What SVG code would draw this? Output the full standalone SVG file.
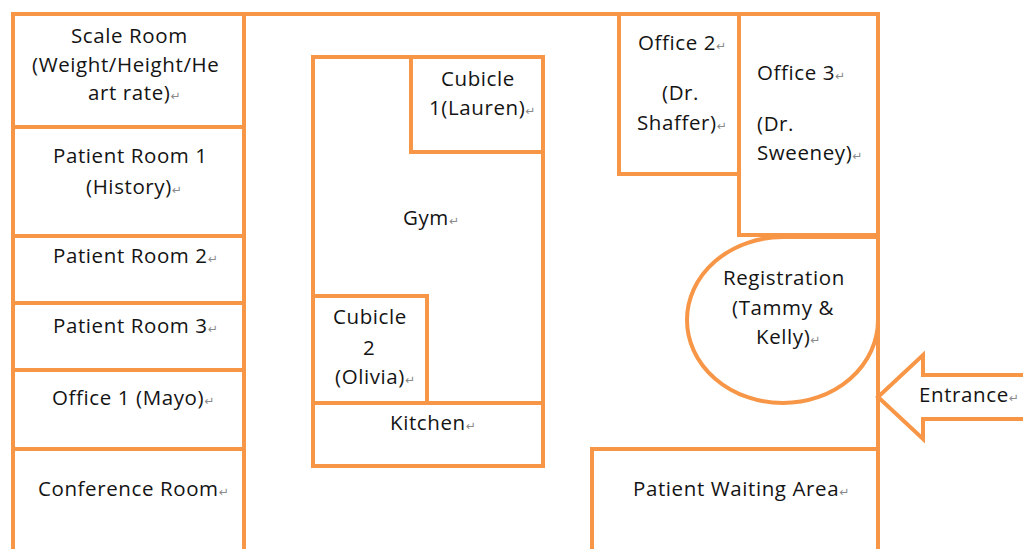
<svg xmlns="http://www.w3.org/2000/svg" width="1023" height="549" viewBox="0 0 1023 549">
<style>
.wall{fill:none;stroke:#F79646;stroke-width:4}
.room{fill:#fff;stroke:#F79646;stroke-width:4}
.t{font-family:"Open Sans","Noto Sans","Liberation Sans",sans-serif;font-size:20.5px;letter-spacing:0.6px;fill:#141414}
.pm{font-family:"DejaVu Sans",sans-serif;font-size:12px;fill:#8a8a8a;letter-spacing:0}
</style>
<rect width="1023" height="549" fill="#fff"/>
<g id="building"><path class="wall" d="M13,560 V14 H878 V560"/></g>
<g id="scale-room"><rect class="room" x="13" y="14" width="231" height="113"/>
<text class="t"><tspan x="71" y="43">Scale Room</tspan><tspan x="32" y="72">(Weight/Height/He</tspan><tspan x="88" y="100">art rate)<tspan class="pm">↵</tspan></tspan></text></g>
<g id="patient-room-1"><rect class="room" x="13" y="127" width="231" height="109"/>
<text class="t"><tspan x="53" y="163">Patient Room 1</tspan><tspan x="86" y="194">(History)<tspan class="pm">↵</tspan></tspan></text></g>
<g id="patient-room-2"><rect class="room" x="13" y="236" width="231" height="67"/>
<text class="t" x="53" y="263">Patient Room 2<tspan class="pm">↵</tspan></text></g>
<g id="patient-room-3"><rect class="room" x="13" y="303" width="231" height="67"/>
<text class="t" x="53" y="333">Patient Room 3<tspan class="pm">↵</tspan></text></g>
<g id="office-1"><rect class="room" x="13" y="370" width="231" height="79"/>
<text class="t" x="52" y="405">Office 1 (Mayo)<tspan class="pm">↵</tspan></text></g>
<g id="conference-room"><rect class="room" x="13" y="449" width="231" height="120"/>
<text class="t" x="38" y="496">Conference Room<tspan class="pm">↵</tspan></text></g>
<g id="gym"><rect class="room" x="313" y="57" width="230" height="346"/>
<text class="t" x="403" y="225">Gym<tspan class="pm">↵</tspan></text></g>
<g id="cubicle-1"><rect class="room" x="411" y="57" width="132" height="95"/>
<text class="t"><tspan x="441" y="86">Cubicle</tspan><tspan x="429" y="115">1(Lauren)<tspan class="pm">↵</tspan></tspan></text></g>
<g id="cubicle-2"><rect class="room" x="313" y="296" width="114" height="107"/>
<text class="t"><tspan x="333" y="324">Cubicle</tspan><tspan x="363" y="355">2</tspan><tspan x="335" y="384">(Olivia)<tspan class="pm">↵</tspan></tspan></text></g>
<g id="kitchen"><rect class="room" x="313" y="403" width="230" height="63"/>
<text class="t" x="390" y="430">Kitchen<tspan class="pm">↵</tspan></text></g>
<g id="office-2"><rect class="room" x="619" y="14" width="120" height="160"/>
<text class="t"><tspan x="638" y="50">Office 2<tspan class="pm">↵</tspan></tspan><tspan x="662" y="100">(Dr.</tspan><tspan x="637" y="130">Shaffer)<tspan class="pm">↵</tspan></tspan></text></g>
<g id="office-3"><rect class="room" x="739" y="14" width="139" height="221"/>
<text class="t"><tspan x="757" y="80">Office 3<tspan class="pm">↵</tspan></tspan><tspan x="757" y="131">(Dr.</tspan><tspan x="757" y="160">Sweeney)<tspan class="pm">↵</tspan></tspan></text></g>
<g id="registration"><path class="room" d="M783,237 H878 V320 A95,83 0 0 1 783,403 A96,83 0 0 1 687,320 A96,83 0 0 1 783,237 Z"/>
<text class="t"><tspan x="723" y="285">Registration</tspan><tspan x="732" y="315">(Tammy &amp;</tspan><tspan x="756" y="344">Kelly)<tspan class="pm">↵</tspan></tspan></text></g>
<g id="waiting-area"><rect class="room" x="592" y="449" width="286" height="120"/>
<text class="t" x="633" y="496">Patient Waiting Area<tspan class="pm">↵</tspan></text></g>
<g id="entrance"><path class="room" d="M1030,375 H923 V355 L878,397 L923,439 V419 H1030 Z"/>
<text class="t" x="919" y="402">Entrance<tspan class="pm">↵</tspan></text></g>
</svg>
